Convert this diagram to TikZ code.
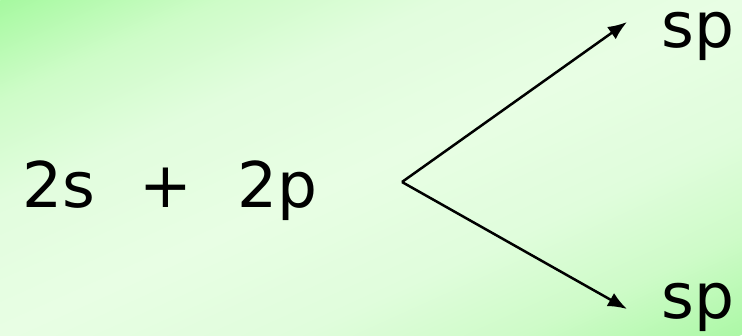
\documentclass[tikz,border=0pt]{standalone}
\usepackage{fontspec}
\setmainfont{DejaVu Sans}
\usetikzlibrary{arrows.meta}
\definecolor{gtl}{RGB}{166,249,160}
\definecolor{gtl2}{RGB}{206,252,200}
\definecolor{gtl3}{RGB}{226,253,222}
\definecolor{gmid}{RGB}{232,254,228}
\definecolor{gbr3}{RGB}{224,253,220}
\definecolor{gbr2}{RGB}{206,251,200}
\definecolor{gbr}{RGB}{172,248,166}
\pgfdeclareverticalshading{bgshade}{100bp}{color(0bp)=(gbr); color(25bp)=(gbr); color(32.5bp)=(gbr2); color(40bp)=(gbr3); color(50bp)=(gmid); color(60bp)=(gtl3); color(67.5bp)=(gtl2); color(75bp)=(gtl); color(100bp)=(gtl)}
\begin{document}
\begin{tikzpicture}[x=1pt,y=-1pt,
  lbl/.style={inner sep=0pt,anchor=base west,font=\fontsize{63}{75}\selectfont},
  conn/.style={line width=2.5pt,-{Latex[length=19pt,width=15pt]}}]
\useasboundingbox (0,0) rectangle (742,335);
\begin{scope}
  \clip (0,0) rectangle (742,335);
  \begin{scope}[transform canvas={rotate around={24.3:(371,167.5)}}]
    \shade[shading=bgshade] (-200,-137.5) rectangle (942,472.5);
  \end{scope}
\end{scope}
\node[lbl] (s2) at (22,207) {2s};
\node[lbl] (plus) at (139,207) {+};
\node[lbl] (p2) at (237,207) {2p};
\node[lbl] (sp1) at (661,47) {sp};
\node[lbl] (sp2) at (661,318) {sp};
\coordinate (v) at (402,182);
\coordinate (t1) at (627,22);
\coordinate (t2) at (627,309);
\draw[conn] (v) -- (t1);
\draw[conn] (v) -- (t2);
\end{tikzpicture}
\end{document}
